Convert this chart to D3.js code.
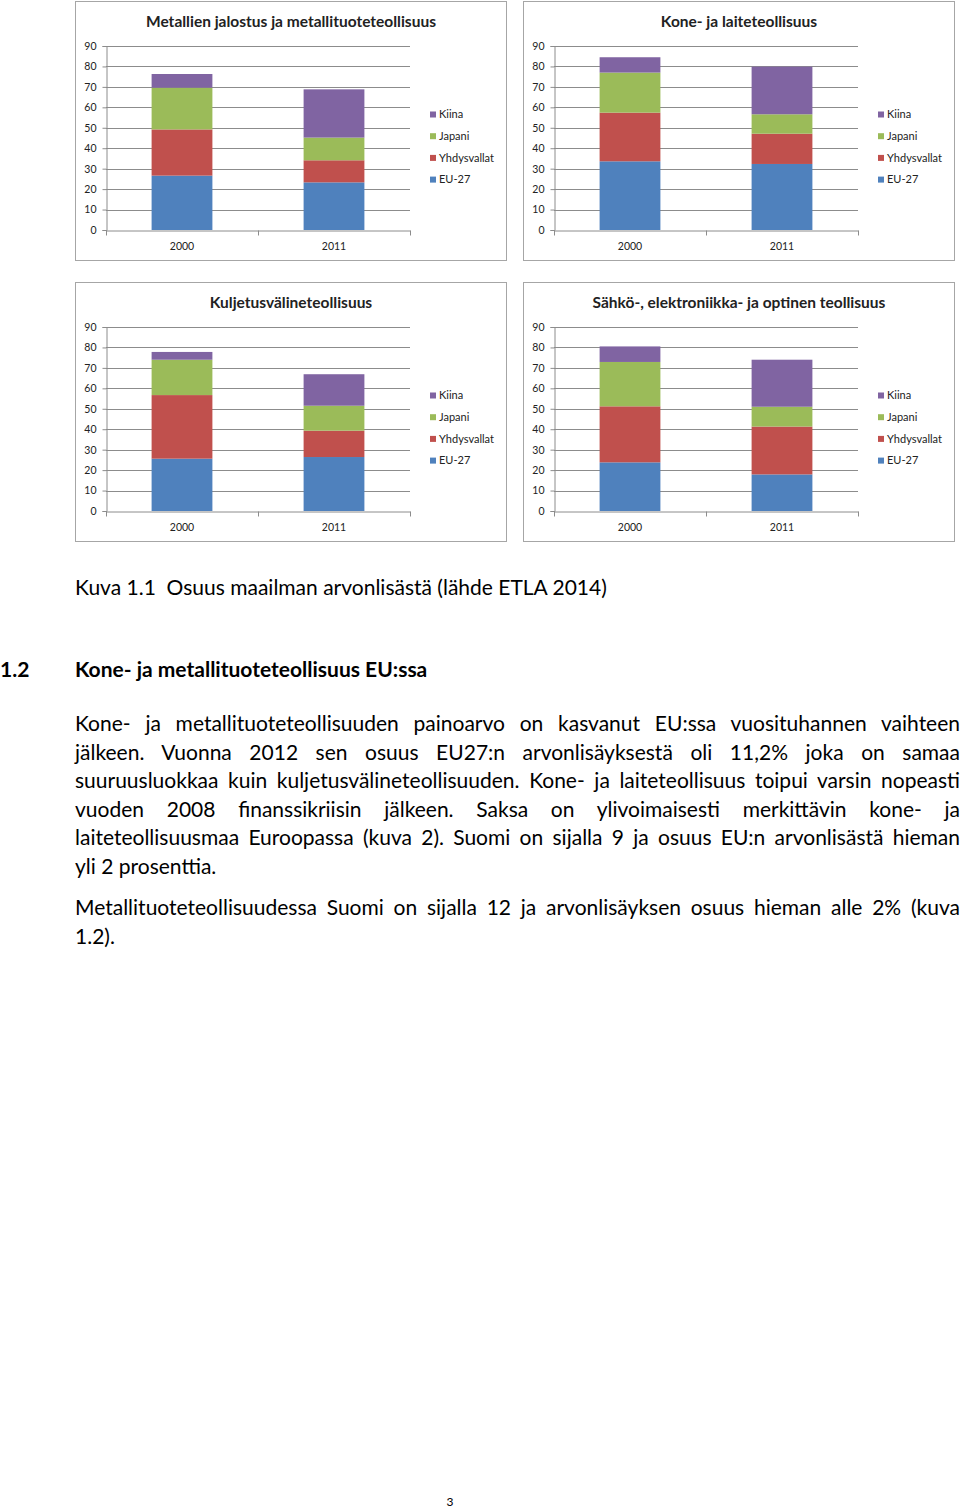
<!DOCTYPE html>
<html>
<head>
<meta charset="utf-8">
<script src="https://cdn.jsdelivr.net/npm/d3@7"></script>
<style>
  body { margin: 0; background: #fff; }
  svg { display: block; font-family: Lato, "Open Sans", sans-serif; }
</style>
</head>
<body>
<div id="page"></div>
<script>
// categories / series
var years = ["2000", "2011"];
var series = ["EU-27", "Yhdysvallat", "Japani", "Kiina"];
var colors = ["#4f81bd", "#c0504d", "#9bbb59", "#8064a2"];
var yTicks = [0, 10, 20, 30, 40, 50, 60, 70, 80, 90];

// values per panel, per year: EU-27, Yhdysvallat, Japani, Kiina
var metalli2000 = [26.6, 22.6, 20.4, 6.7];
var metalli2011 = [23.3, 10.8, 11.1, 23.6];
var kone2000 = [33.6, 23.8, 19.6, 7.5];
var kone2011 = [32.3, 14.8, 9.5, 23.3];
var kuljetus2000 = [25.6, 31.1, 17.3, 3.8];
var kuljetus2011 = [26.4, 12.9, 12.2, 15.4];
var sahko2000 = [23.8, 27.4, 21.7, 7.6];
var sahko2011 = [17.9, 23.4, 9.7, 23.0];

var titles = [
  "Metallien jalostus ja metallituoteteollisuus",
  "Kone- ja laiteteollisuus",
  "Kuljetusvälineteollisuus",
  "Sähkö-, elektroniikka- ja optinen teollisuus"
];

var caption = "Kuva 1.1  Osuus maailman arvonlisästä (lähde ETLA 2014)";
var headingNum = "1.2";
var heading = "Kone- ja metallituoteteollisuus EU:ssa";
var para1 = [
  "Kone- ja metallituoteteollisuuden painoarvo on kasvanut EU:ssa vuosituhannen vaihteen",
  "jälkeen. Vuonna 2012 sen osuus EU27:n arvonlisäyksestä oli 11,2% joka on samaa",
  "suuruusluokkaa kuin kuljetusvälineteollisuuden. Kone- ja laiteteollisuus toipui varsin nopeasti",
  "vuoden 2008 finanssikriisin jälkeen. Saksa on ylivoimaisesti merkittävin kone- ja",
  "laiteteollisuusmaa Euroopassa (kuva 2). Suomi on sijalla 9 ja osuus EU:n arvonlisästä hieman",
  "yli 2 prosenttia."
];
var para2 = [
  "Metallituoteteollisuudessa Suomi on sijalla 12 ja arvonlisäyksen osuus hieman alle 2% (kuva",
  "1.2)."
];
var pageNumber = "3";

var panels = [
  { title: titles[0], data: [metalli2000, metalli2011], x: 75, y: 1 },
  { title: titles[1], data: [kone2000, kone2011], x: 523, y: 1 },
  { title: titles[2], data: [kuljetus2000, kuljetus2011], x: 75, y: 282 },
  { title: titles[3], data: [sahko2000, sahko2011], x: 523, y: 282 }
];

var W = 960, H = 1509;
var svg = d3.select("#page").append("svg").attr("width", W).attr("height", H);
svg.append("rect").attr("width", W).attr("height", H).attr("fill", "#fff");

var pw = 432, ph = 260;
var x = d3.scaleBand().domain(years).range([31, 335]);
var y = d3.scaleLinear().domain([0, 90]).range([229, 45]);

panels.forEach(function(p) {
  var g = svg.append("g").attr("transform", "translate(" + p.x + "," + p.y + ")");

  g.append("rect")
    .attr("x", 0.5).attr("y", 0.5)
    .attr("width", pw - 1).attr("height", ph - 1)
    .attr("fill", "#fff").attr("stroke", "#a6a6a6");

  g.append("text")
    .attr("x", pw / 2).attr("y", 26)
    .attr("text-anchor", "middle")
    .attr("font-size", 15.5).attr("font-weight", "bold")
    .attr("fill", "#222")
    .text(p.title);

  // gridlines
  g.selectAll("line.grid").data(yTicks.slice(1)).enter().append("line")
    .attr("class", "grid")
    .attr("x1", 31).attr("x2", 335)
    .attr("y1", function(d) { return Math.round(y(d)) + 0.5; })
    .attr("y2", function(d) { return Math.round(y(d)) + 0.5; })
    .attr("stroke", "#8c8c8c").attr("stroke-width", 1);

  // stacked bars
  var stacks = years.map(function(yr, i) {
    var acc = 0;
    return p.data[i].map(function(v, k) {
      var seg = { year: yr, k: k, y0: acc, y1: acc + v };
      acc += v;
      return seg;
    });
  });
  var bw = x.bandwidth() * 0.4;
  g.selectAll("g.bar").data(stacks).enter().append("g")
    .selectAll("rect").data(function(d) { return d; }).enter().append("rect")
    .attr("x", function(d) { return x(d.year) + x.bandwidth() * 0.3; })
    .attr("width", bw)
    .attr("y", function(d) { return y(d.y1); })
    .attr("height", function(d) { return y(d.y0) - y(d.y1); })
    .attr("fill", function(d) { return colors[d.k]; });

  // y axis
  var ya = g.append("g").attr("transform", "translate(31.5,0)")
    .call(d3.axisLeft(y).tickValues(yTicks).tickSize(4).tickPadding(6));
  ya.select(".domain").attr("stroke", "#8c8c8c");
  ya.selectAll(".tick line").attr("stroke", "#8c8c8c");
  ya.selectAll(".tick text").attr("font-size", 10.5).attr("fill", "#222")
    .attr("font-family", "Lato, sans-serif");

  // x axis
  var xa = g.append("g").attr("transform", "translate(0," + (Math.round(y(0)) + 0.5) + ")")
    .call(d3.axisBottom(x).tickSize(0).tickPadding(12).tickSizeOuter(0));
  xa.select(".domain").attr("stroke", "#8c8c8c");
  xa.selectAll(".tick text").attr("font-size", 10.5).attr("fill", "#222")
    .attr("font-family", "Lato, sans-serif");
  var edges = x.domain().map(function(d) { return x(d); }).concat([x.range()[1]]);
  xa.selectAll("line.edge").data(edges).enter().append("line")
    .attr("class", "edge")
    .attr("x1", function(d) { return Math.round(d) + 0.5; })
    .attr("x2", function(d) { return Math.round(d) + 0.5; })
    .attr("y1", 0).attr("y2", 5)
    .attr("stroke", "#8c8c8c");

  // legend (reverse order)
  var leg = g.selectAll("g.leg").data(series.slice().reverse()).enter().append("g")
    .attr("transform", function(d, i) { return "translate(355," + (113.5 + i * 21.7) + ")"; });
  leg.append("rect").attr("x", 0).attr("y", -3).attr("width", 6).attr("height", 6)
    .attr("fill", function(d) { return colors[series.indexOf(d)]; });
  leg.append("text").attr("x", 9).attr("y", 3.8)
    .attr("font-size", 11).attr("fill", "#222").text(function(d) { return d; });
});

// page text
var tx = 75, tw = 885, fs = 21;
var textG = svg.append("g").attr("font-size", fs).attr("fill", "#000");

textG.append("text").attr("x", tx).attr("y", 595).text(caption)
  .attr("xml:space", "preserve").style("white-space", "pre");

textG.append("text").attr("x", 0).attr("y", 677).attr("font-weight", "bold").text(headingNum);
textG.append("text").attr("x", tx).attr("y", 677).attr("font-weight", "bold").text(heading);

function justify(lines, y0, lh) {
  lines.forEach(function(line, i) {
    var t = textG.append("text").attr("x", tx).attr("y", y0 + i * lh).text(line);
    if (i === lines.length - 1) return;
    var w = t.node().getComputedTextLength();
    var n = line.split(" ").length - 1;
    var extra = (tw - w) / n;
    if (extra >= -1.5) {
      t.attr("word-spacing", extra);
    } else {
      t.attr("textLength", tw).attr("lengthAdjust", "spacingAndGlyphs");
    }
  });
}
justify(para1, 731, 28.5);
justify(para2, 915, 29);

svg.append("text").attr("x", 450).attr("y", 1506).attr("text-anchor", "middle")
  .attr("font-size", 12).text(pageNumber);
</script>
</body>
</html>
